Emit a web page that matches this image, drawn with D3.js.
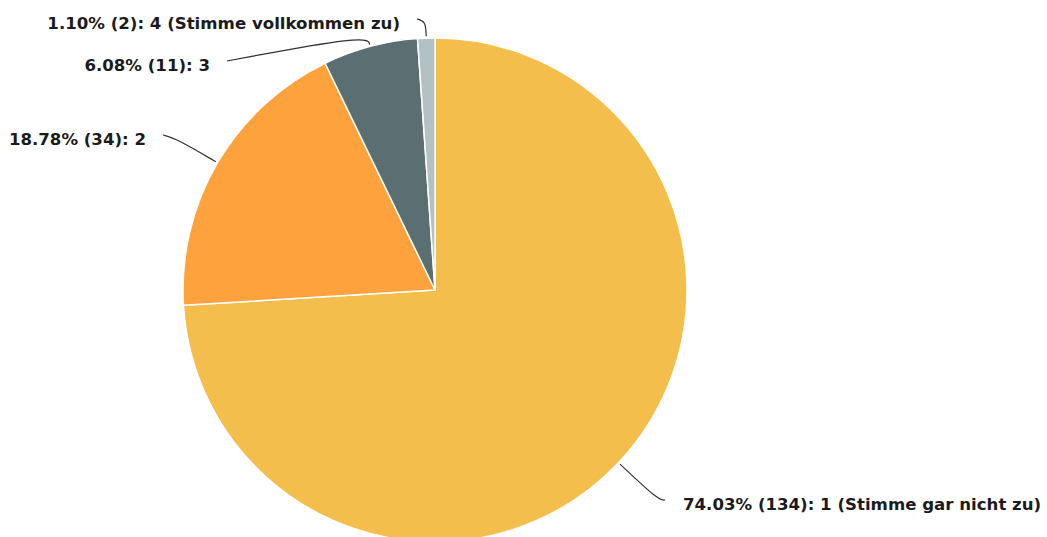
<!DOCTYPE html>
<html>
<head>
<meta charset="utf-8">
<script src="https://cdn.jsdelivr.net/npm/d3@7"></script>
<style>
  html, body { margin: 0; padding: 0; background: #fff; }
  svg { display: block; }
  .lbl { font-family: "DejaVu Sans", Verdana, sans-serif; font-weight: bold; font-size: 16.6px; fill: #1b1b1b; }
</style>
</head>
<body>
<svg id="chart" width="1047" height="537"></svg>
<script>
// Survey answers, in drawing order (clockwise from 12 o'clock)
const categories = ["1 (Stimme gar nicht zu)", "2", "3", "4 (Stimme vollkommen zu)"];
const counts = [134, 34, 11, 2];
const colors = ["#F4BE4D", "#FDA23C", "#5B6E72", "#B2C2C4"];

// Leader-line layout: how far the line runs out radially, then where it ends
const leaderOut = [55, 48, 12, 17];
const leaderEnd = [[665, 500], [163, 135], [227, 61], [417, 19]];
const labelSide = ["right", "left", "left", "left"];

const W = 1047, H = 537;
const cx = 435, cy = 290, R = 252;

const svg = d3.select("#chart");
const total = d3.sum(counts);
const fmt = d3.format(".2f");

const pie = d3.pie().sort(null).value(d => d.count);
const data = categories.map((c, i) => ({ cat: c, count: counts[i], color: colors[i], i }));
const arcs = pie(data);

const arc = d3.arc().innerRadius(0).outerRadius(R);
const g = svg.append("g").attr("transform", `translate(${cx},${cy})`);

g.selectAll("path.slice")
  .data(arcs)
  .join("path")
  .attr("class", "slice")
  .attr("d", arc)
  .attr("fill", d => d.data.color)
  .attr("stroke", "#fff")
  .attr("stroke-width", 1.5)
  .attr("stroke-linejoin", "round");

// Leader lines: radial segment from the rim, then a rounded bend toward the label
const lineGen = d3.line().curve(d3.curveBasis);
function polar(a, r) { return [Math.sin(a) * r, -Math.cos(a) * r]; }

arcs.forEach(d => {
  const i = d.data.i;
  const mid = (d.startAngle + d.endAngle) / 2;
  const p0 = polar(mid, R + 2);
  const p1 = polar(mid, R + leaderOut[i]);
  const end = [leaderEnd[i][0] - cx, leaderEnd[i][1] - cy];
  g.append("path")
    .attr("d", lineGen([p0, p0, p1, end, end]))
    .attr("fill", "none")
    .attr("stroke", "#333")
    .attr("stroke-width", 1.2);

  const pct = fmt(d.data.count / total * 100);
  const right = labelSide[i] === "right";
  g.append("text")
    .attr("class", "lbl")
    .attr("x", end[0] + (right ? 18 : -17))
    .attr("y", end[1] + 4)
    .attr("dominant-baseline", "central")
    .attr("text-anchor", right ? "start" : "end")
    .text(`${pct}% (${d.data.count}): ${d.data.cat}`);
});
</script>
</body>
</html>
